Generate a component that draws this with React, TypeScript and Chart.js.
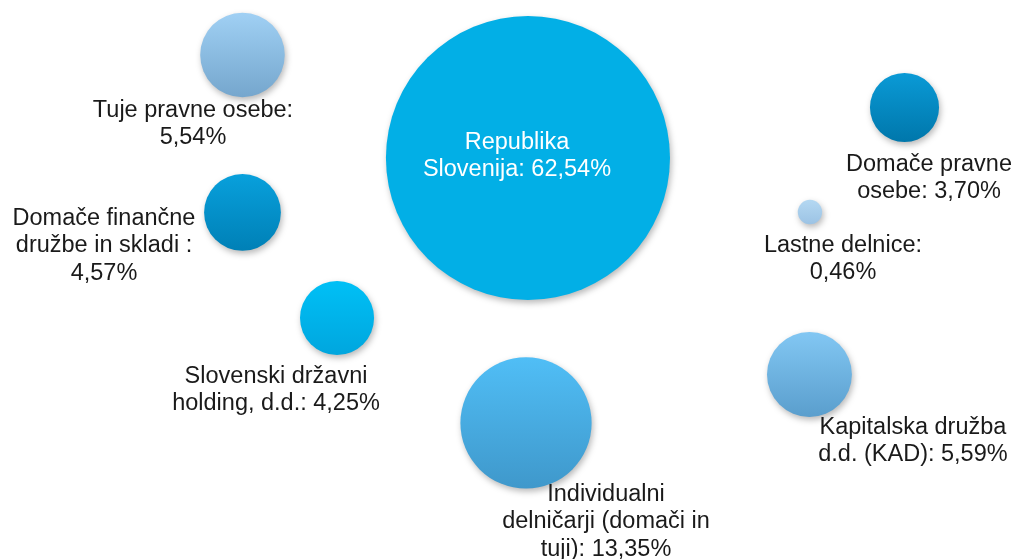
import React, { useEffect, useRef } from "react";
import { Chart, registerables } from "chart.js";

Chart.register(...registerables);

// ---- data ----
const categories = [
  "Tuje pravne osebe",
  "Republika Slovenija",
  "Domače pravne osebe",
  "Domače finančne družbe in skladi",
  "Lastne delnice",
  "Slovenski državni holding, d.d.",
  "Individualni delničarji (domači in tuji)",
  "Kapitalska družba d.d. (KAD)",
];
const shares = [5.54, 62.54, 3.7, 4.57, 0.46, 4.25, 13.35, 5.59];
const xValues = [23.75, 51.71, 88.59, 23.75, 79.33, 33.01, 51.52, 79.28];
const yValues = [90.16, 71.74, 80.77, 61.99, 62.07, 43.11, 24.33, 33.0];
// label text lines ({v} = share value)
const labelLines = [
  ["Tuje pravne osebe:", "{v}"],
  ["Republika", "Slovenija: {v}"],
  ["Domače pravne", "osebe: {v}"],
  ["Domače finančne", "družbe in skladi :", "{v}"],
  ["Lastne delnice:", "{v}"],
  ["Slovenski državni", "holding, d.d.: {v}"],
  ["Individualni", "delničarji (domači in", "tuji): {v}"],
  ["Kapitalska družba", "d.d. (KAD): {v}"],
];

// ---- styles ----
const gradTop = ["#a0d0f4", "#02afe6", "#0a9ad6", "#08a0dc", "#b4d8f2", "#00c0f6", "#50bef6", "#82c7f3"];
const gradBottom = ["#75a6cd", "#02afe6", "#0077ab", "#0080b6", "#9cc3e4", "#00a6de", "#3f98cb", "#5a9ecd"];
const labelColors = ["#1a1a1a", "#ffffff", "#1a1a1a", "#1a1a1a", "#1a1a1a", "#1a1a1a", "#1a1a1a", "#1a1a1a"];
// label anchor offsets from bubble centre (px): [dx, first baseline dy]
const labelOffsets = [
  [-49.5, 62],
  [-11, -9],
  [24.5, 63.5],
  [-138.5, 12.5],
  [33, 40],
  [-61, 65],
  [80, 78],
  [103.5, 59.5],
];
const RADIUS_K = 17.96;
const LINE_H = 27.3;
const FONT = "23.5px 'Liberation Sans', Arial, sans-serif";

const fmt = (v: number) => v.toFixed(2).replace(".", ",") + "%";

export default function App() {
  const ref = useRef<HTMLCanvasElement | null>(null);

  useEffect(() => {
    document.body.style.margin = "0";
    const canvas = ref.current!;
    const shadowPlugin = {
      id: "bubbleShadow",
      beforeDatasetsDraw(chart: any) {
        const ctx = chart.ctx;
        ctx.save();
        ctx.shadowColor = "rgba(0,0,0,0.28)";
        ctx.shadowBlur = 6;
        ctx.shadowOffsetX = 1.5;
        ctx.shadowOffsetY = 3;
      },
      afterDatasetsDraw(chart: any) {
        chart.ctx.restore();
      },
    };
    const labelPlugin = {
      id: "bubbleLabels",
      afterDraw(chart: any) {
        const ctx = chart.ctx;
        const xs = chart.scales.x;
        const ys = chart.scales.y;
        ctx.save();
        ctx.font = FONT;
        ctx.textAlign = "center";
        ctx.textBaseline = "alphabetic";
        categories.forEach((_, i) => {
          const cx = xs.getPixelForValue(xValues[i]) + labelOffsets[i][0];
          const cy = ys.getPixelForValue(yValues[i]) + labelOffsets[i][1];
          ctx.fillStyle = labelColors[i];
          labelLines[i].forEach((line, j) => {
            ctx.fillText(line.replace("{v}", fmt(shares[i])), cx, cy + j * LINE_H);
          });
        });
        ctx.restore();
      },
    };

    const data = categories.map((_, i) => ({
      x: xValues[i],
      y: yValues[i],
      r: RADIUS_K * Math.sqrt(shares[i]),
    }));

    const chart = new Chart(canvas, {
      type: "bubble",
      data: {
        datasets: [
          {
            label: "Delničarji",
            data,
            borderWidth: 0,
            clip: false as any,
            backgroundColor: (c: any) => {
              const ch = c.chart;
              if (!ch.chartArea || c.dataIndex === undefined) return gradTop[0];
              const i = c.dataIndex;
              const py = ch.scales.y.getPixelForValue(yValues[i]);
              const r = RADIUS_K * Math.sqrt(shares[i]);
              const g = ch.ctx.createLinearGradient(0, py - r, 0, py + r);
              g.addColorStop(0, gradTop[i]);
              g.addColorStop(1, gradBottom[i]);
              return g;
            },
          },
        ],
      },
      options: {
        animation: false,
        responsive: false,
        layout: { padding: 0, autoPadding: false },
        plugins: {
          legend: { display: false },
          tooltip: { enabled: false },
        },
        scales: {
          x: { type: "linear", min: 0, max: 100, display: false },
          y: { type: "linear", min: 0, max: 100, display: false },
        },
      },
      plugins: [shadowPlugin, labelPlugin],
    });
    return () => chart.destroy();
  }, []);

  return (
    <canvas
      ref={ref}
      width={1021}
      height={559}
      style={{ display: "block", width: 1021, height: 559, background: "#ffffff" }}
    />
  );
}
